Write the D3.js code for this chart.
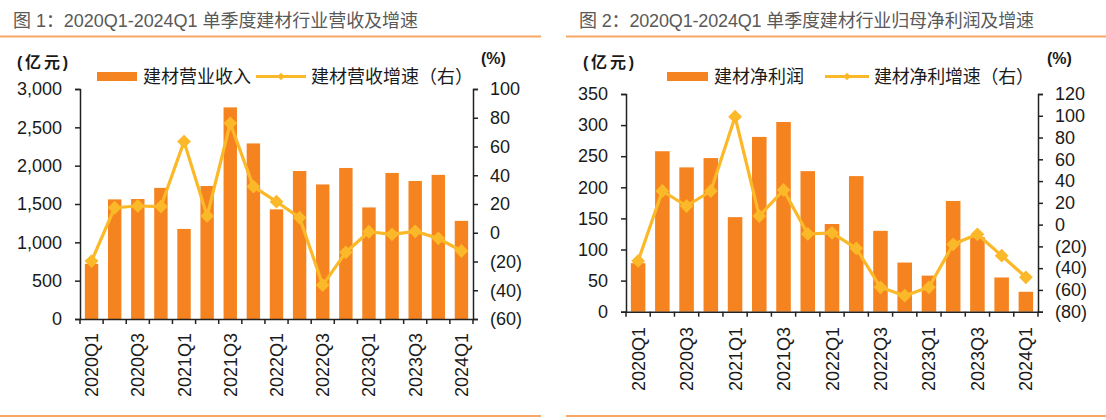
<!DOCTYPE html>
<html>
<head>
<meta charset="utf-8">
<script src="https://cdn.jsdelivr.net/npm/d3@7"></script>
<style>
  html, body { margin: 0; padding: 0; background: #ffffff; }
  svg { display: block; }
  text { font-family: "Liberation Sans", Arial, "Noto Sans CJK SC", sans-serif; }
</style>
</head>
<body>
<svg id="chart" width="1106" height="420"></svg>
<script>
// ---------------- data ----------------
const quarters = ["2020Q1","2020Q2","2020Q3","2020Q4","2021Q1","2021Q2","2021Q3","2021Q4",
                  "2022Q1","2022Q2","2022Q3","2022Q4","2023Q1","2023Q2","2023Q3","2023Q4","2024Q1"];
const shownLabels = ["2020Q1","2020Q3","2021Q1","2021Q3","2022Q1","2022Q3","2023Q1","2023Q3","2024Q1"];

// 图1: revenue (亿元) and YoY growth (%)
const revenue = [720,1560,1565,1710,1175,1735,2760,2290,1430,1930,1755,1970,1455,1905,1800,1880,1280];
const revenueGrowth = [-19.7,17.4,18.6,18.2,63.4,11.7,76.1,32.1,21.6,10.5,-36.4,-13.6,0.7,-1.1,1.0,-3.9,-12.7];
const revenueTicks = [0,500,1000,1500,2000,2500,3000];
const revenueGrowthTicks = [-60,-40,-20,0,20,40,60,80,100];

// 图2: net profit (亿元) and YoY growth (%)
const profit = [78,258,232,247,152,281,305,226,141,218,130,79,58,178,120,55,32];
const profitGrowth = [-33.4,30.9,17.1,30.9,99.1,7.9,31.8,-8.6,-7.5,-21.8,-57.6,-65.3,-57.6,-18.1,-8.9,-28.5,-48.4];
const profitTicks = [0,50,100,150,200,250,300,350];
const profitGrowthTicks = [-80,-60,-40,-20,0,20,40,60,80,100,120];

const titles = ["图 1：2020Q1-2024Q1 单季度建材行业营收及增速",
                "图 2：2020Q1-2024Q1 单季度建材行业归母净利润及增速"];
const legendBar = ["建材营业收入", "建材净利润"];
const legendLine = ["建材营收增速（右）", "建材净利增速（右）"];

// ---------------- styles ----------------
const BAR = "#F5831F";
const LINE = "#FBB828";
const RULE = "#F7A766";
const TXT = "#1a1a1a";

const svg = d3.select("#chart");

function fmtLeft(v){ return d3.format(",")(v); }
function fmtRight(v){ return v < 0 ? "(" + Math.abs(v) + ")" : String(v); }

function drawChart(o) {
  const g = svg.append("g");

  // title + rules
  g.append("text").attr("x", o.titleX).attr("y", 27)
    .attr("font-size", 18).attr("fill", "#595959")
    .attr("textLength", o.titleW).attr("lengthAdjust", "spacing").text(o.title);
  g.append("line").attr("x1", o.ruleX0).attr("x2", o.ruleX1).attr("y1", 36.5).attr("y2", 36.5)
    .attr("stroke", RULE).attr("stroke-width", 2);
  g.append("line").attr("x1", o.ruleX0).attr("x2", o.ruleX1).attr("y1", 416).attr("y2", 416)
    .attr("stroke", RULE).attr("stroke-width", 2);

  const x = d3.scaleBand().domain(quarters).range([o.x0, o.x1]).padding(0);
  const yL = d3.scaleLinear().domain([o.leftTicks[0], o.leftTicks[o.leftTicks.length-1]]).range([o.y0, o.y1]);
  const yR = d3.scaleLinear().domain([o.rightTicks[0], o.rightTicks[o.rightTicks.length-1]]).range([o.y0, o.y1]);
  const bw = x.bandwidth();

  // bars
  g.append("g").selectAll("rect").data(o.bars).join("rect")
    .attr("x", (d,i) => x(quarters[i]) + bw*o.gap)
    .attr("width", bw*(1-2*o.gap))
    .attr("y", d => yL(d))
    .attr("height", d => yL(0) - yL(d))
    .attr("fill", BAR);

  // axes
  const axL = d3.axisLeft(yL).tickValues(o.leftTicks).tickFormat(fmtLeft).tickSizeOuter(0).tickSize(5).tickPadding(13);
  const gL = g.append("g").attr("transform", `translate(${o.x0},0)`).call(axL);
  const axR = d3.axisRight(yR).tickValues(o.rightTicks).tickFormat(fmtRight).tickSizeOuter(0).tickSize(5).tickPadding(12);
  const gR = g.append("g").attr("transform", `translate(${o.x1},0)`).call(axR);
  const axB = d3.axisBottom(x).tickValues([]).tickSizeOuter(0);
  const gB = g.append("g").attr("transform", `translate(0,${o.y0})`).call(axB);
  // category boundary ticks
  const bounds = d3.range(quarters.length + 1).map(i => o.x0 + i*bw);
  gB.selectAll("line.bt").data(bounds).join("line").attr("class","bt")
    .attr("x1", d => d).attr("x2", d => d).attr("y1", 0).attr("y2", 5)
    .attr("stroke", "#222").attr("stroke-width", 1.5);
  // rotated category labels
  g.append("g").selectAll("text.cl").data(shownLabels).join("text").attr("class","cl")
    .attr("transform", d => `translate(${x(d) + bw/2 + 6.5},${o.labelTop}) rotate(-90)`)
    .attr("text-anchor", "end").attr("font-size", 18).attr("fill", TXT).text(d => d);

  [gL, gR, gB].forEach(a => {
    a.selectAll(".domain").attr("stroke", "#222").attr("stroke-width", 1.5);
    a.selectAll(".tick line").attr("stroke", "#222").attr("stroke-width", 1.5);
    a.selectAll(".tick text").attr("font-size", 18).attr("fill", TXT)
      .attr("font-family", '"Liberation Sans", Arial, sans-serif');
  });

  // growth line
  const line = d3.line().x((d,i) => x(quarters[i]) + bw/2).y(d => yR(d));
  g.append("path").datum(o.growth).attr("d", line)
    .attr("fill", "none").attr("stroke", LINE).attr("stroke-width", 3.2).attr("stroke-linejoin","round");
  const diamond = d3.symbol().type(d3.symbolSquare).size(95);
  g.append("g").selectAll("path").data(o.growth).join("path")
    .attr("transform", (d,i) => `translate(${x(quarters[i]) + bw/2},${yR(d)}) rotate(45)`)
    .attr("d", diamond).attr("fill", LINE);

  // unit labels
  g.append("text").attr("x", o.unitLX).attr("y", 68).attr("font-size", 16).attr("font-weight","bold")
    .attr("fill", TXT).attr("textLength", 51).attr("lengthAdjust", "spacing").text("(亿元)");
  g.append("text").attr("x", o.unitRX).attr("y", 64).attr("font-size", 16).attr("font-weight","bold")
    .attr("fill", TXT).text("(%)");

  // legend
  g.append("rect").attr("x", o.legX).attr("y", 72).attr("width", o.legSw).attr("height", 9).attr("fill", BAR);
  g.append("text").attr("x", o.legX + o.legSw + 6).attr("y", 83).attr("font-size", 18).attr("fill", TXT).text(o.legBar);
  g.append("line").attr("x1", o.legLineX).attr("x2", o.legLineX + o.legLineW).attr("y1", 76.5).attr("y2", 76.5)
    .attr("stroke", LINE).attr("stroke-width", 3);
  g.append("path").attr("transform", `translate(${o.legLineX + o.legLineW/2},76.5) rotate(45)`)
    .attr("d", d3.symbol().type(d3.symbolSquare).size(30)).attr("fill", LINE);
  g.append("text").attr("x", o.legLineX + o.legLineW + 5).attr("y", 83).attr("font-size", 18).attr("fill", TXT)
    .attr("textLength", o.legLineTW).attr("lengthAdjust", "spacing").text(o.legLine);
}

drawChart({
  title: titles[0], titleX: 13, titleW: 405, ruleX0: 0, ruleX1: 541,
  x0: 80, x1: 473, y0: 319, y1: 89, gap: 0.21, labelTop: 333,
  bars: revenue, growth: revenueGrowth, leftTicks: revenueTicks, rightTicks: revenueGrowthTicks,
  unitLX: 17, unitRX: 481,
  legX: 97, legSw: 40, legBar: legendBar[0], legLineX: 256, legLineW: 50, legLine: legendLine[0], legLineTW: 162
});

drawChart({
  title: titles[1], titleX: 579, titleW: 455, ruleX0: 566, ruleX1: 1106,
  x0: 626, x1: 1038, y0: 311.7, y1: 94, gap: 0.2, labelTop: 327,
  bars: profit, growth: profitGrowth, leftTicks: profitTicks, rightTicks: profitGrowthTicks,
  unitLX: 583, unitRX: 1047,
  legX: 667, legSw: 41, legBar: legendBar[1], legLineX: 825, legLineW: 44, legLine: legendLine[1], legLineTW: 160
});
</script>
</body>
</html>
